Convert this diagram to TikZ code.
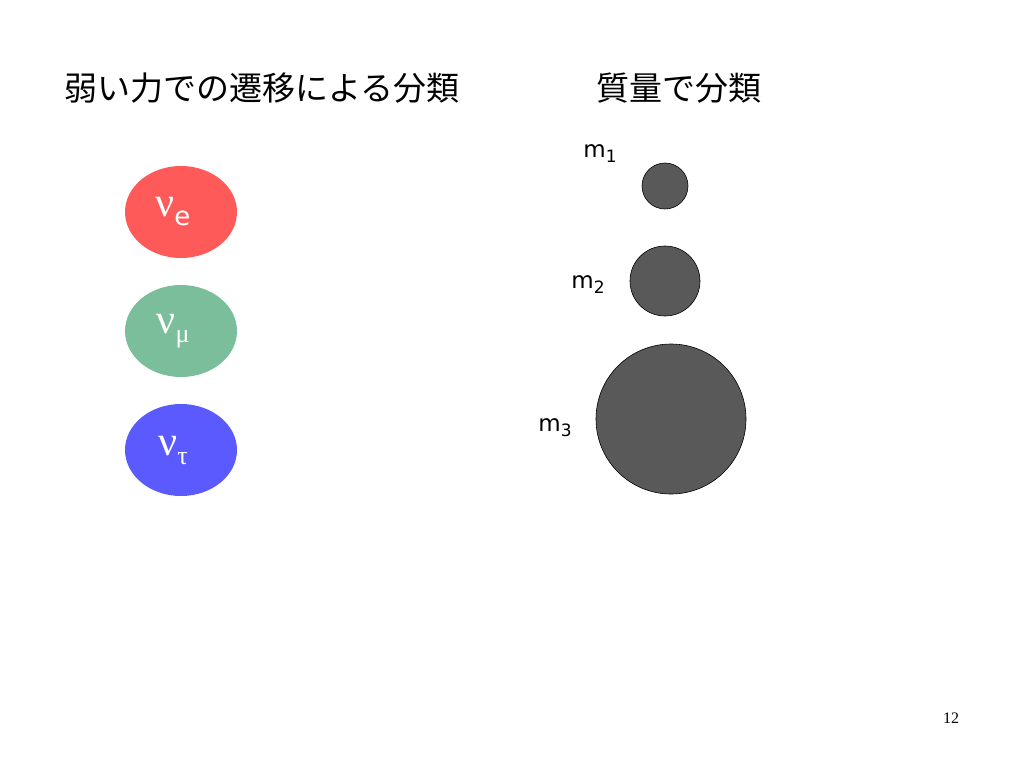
\documentclass[tikz,border=0pt]{standalone}
\usepackage{fontspec}
\usepackage{xcolor}
\usetikzlibrary{shapes.geometric,positioning}
\setmainfont{Liberation Serif}
\newfontfamily\jpfont{Noto Sans CJK JP}
\newfontfamily\labfont{DejaVu Sans}
\definecolor{nured}{HTML}{FF5A5A}
\definecolor{nugreen}{HTML}{7ABE9C}
\definecolor{nublue}{HTML}{5A5AFF}
\definecolor{massgray}{HTML}{595959}
\tikzset{
  flavour/.style={
    shape = ellipse,
    minimum width = 112pt,
    minimum height = 92pt,
    inner sep = 0pt,
    text = white
  },
  mass/.style={
    shape = circle,
    draw = black,
    fill = massgray,
    inner sep = 0pt,
    line width = 0.6pt
  },
  title/.style={
    anchor = west,
    inner sep = 0pt,
    font = \jpfont\fontsize{33}{36}\selectfont
  },
  mlabel/.style={
    inner sep = 0pt,
    font = \labfont\fontsize{23}{26}\selectfont
  }
}
\newcommand\Nu{{\fontsize{42}{46}\selectfont ν}}
\newcommand\Sub[1]{\raisebox{-9pt}{\fontsize{26}{30}\selectfont #1}}
\newcommand\Msub[1]{m\raisebox{-5pt}{\fontsize{17}{20}\selectfont #1}}
\begin{document}
\begin{tikzpicture}[x=1pt,y=-1pt]
    \useasboundingbox (0,0) rectangle (1024,768);

    % titles
    \node[title] (weak) at (64,88) {弱い力での遷移による分類};
    \node[title] (massT) at (596,88) {質量で分類};

    % flavour states
    \node[flavour, fill=nured] (nue) at (181,212) {\hspace{-16pt}\Nu\Sub{\labfont e}};
    \node[flavour, fill=nugreen] (numu) at (181,331) {\hspace{-16pt}\Nu\Sub{μ}};
    \node[flavour, fill=nublue] (nutau) at (181,450) {\hspace{-16pt}\Nu\Sub{τ}};

    % mass states
    \node[mass, minimum size=46pt] (m1) at (665,186) {};
    \node[mass, minimum size=70pt] (m2) at (665,281) {};
    \node[mass, minimum size=150pt] (m3) at (671,419) {};
    \node[mlabel] (l1) at (600,154) {\Msub{1}};
    \node[mlabel] (l2) at (588,285) {\Msub{2}};
    \node[mlabel] (l3) at (555,428) {\Msub{3}};

    \node[inner sep=0pt, font=\fontsize{16}{18}\selectfont] (page) at (951,718) {12};
\end{tikzpicture}
\end{document}
